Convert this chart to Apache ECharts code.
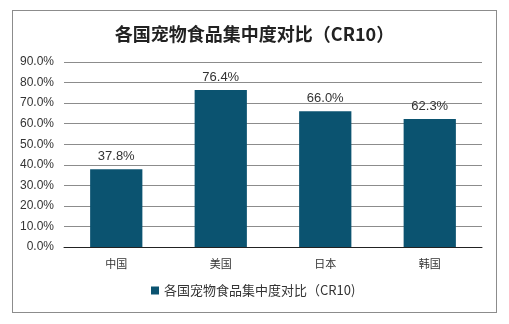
<!DOCTYPE html>
<html>
<head>
<meta charset="utf-8">
<style>
  html, body { margin: 0; padding: 0; background: #fff; }
  #frame { position: absolute; left: 12px; top: 10px; width: 483px; height: 301px; border: 1px solid #8c8c8c; box-sizing: content-box; }
  #chart { position: absolute; left: 0; top: 0; width: 509px; height: 324px; }
</style>
<script src="https://cdn.jsdelivr.net/npm/echarts@6/dist/echarts.min.js"></script>
</head>
<body>
<div id="frame"></div>
<div id="chart"></div>
<script>
// CR10 concentration of the pet food market by country
const countries = ['中国', '美国', '日本', '韩国'];
const cr10 = [37.8, 76.4, 66.0, 62.3];
const seriesName = '各国宠物食品集中度对比（CR10)';
const titleText = '各国宠物食品集中度对比（CR10）';

const font = '"Microsoft YaHei", "Noto Sans CJK SC", sans-serif';
const chart = echarts.init(document.getElementById('chart'), null, { renderer: 'canvas' });
chart.setOption({
  animation: false,
  backgroundColor: 'transparent',
  title: {
    text: titleText,
    left: 'center',
    top: 20,
    textStyle: { fontFamily: font, fontSize: 18, fontWeight: 'bold', color: '#222' }
  },
  legend: {
    data: [seriesName],
    bottom: 22,
    left: 146,
    itemWidth: 8,
    itemHeight: 8,
    itemGap: 5,
    icon: 'rect',
    textStyle: { fontFamily: font, fontSize: 13, color: '#333' }
  },
  grid: { left: 64, right: 27, top: 62, bottom: 77 },
  xAxis: {
    type: 'category',
    data: countries,
    axisLine: { lineStyle: { color: '#222', width: 1 } },
    axisTick: { show: false },
    axisLabel: { fontFamily: font, fontSize: 11, color: '#333', margin: 11 }
  },
  yAxis: {
    type: 'value',
    min: 0,
    max: 90,
    interval: 10,
    axisLine: { show: false },
    axisTick: { show: false },
    splitLine: { lineStyle: { color: '#8c8c8c', width: 1 } },
    axisLabel: {
      fontFamily: 'Arial, "Liberation Sans", sans-serif',
      fontSize: 12,
      color: '#333',
      margin: 10,
      formatter: v => v.toFixed(1) + '%'
    }
  },
  series: [{
    name: seriesName,
    type: 'bar',
    data: cr10,
    barWidth: '50%',
    itemStyle: { color: '#0b5370' },
    label: {
      show: true,
      position: 'top',
      distance: 6,
      fontFamily: 'Arial, "Liberation Sans", sans-serif',
      fontSize: 13,
      color: '#333',
      formatter: p => p.value.toFixed(1) + '%'
    }
  }]
});
</script>
</body>
</html>
